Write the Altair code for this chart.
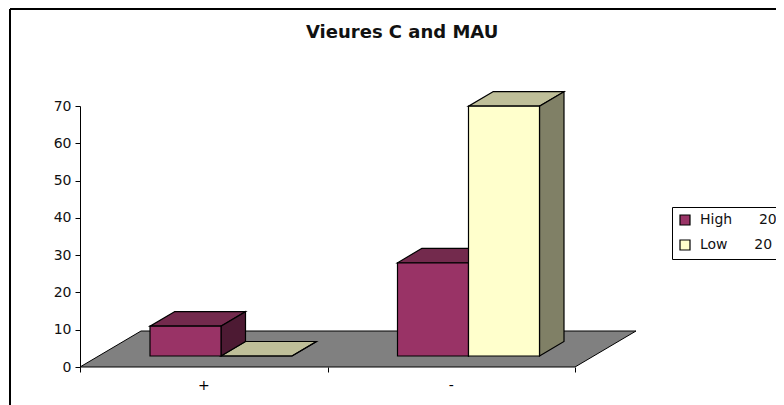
import altair as alt
import pandas as pd

categories = ["+", "-"]
series = ["High", "Low"]
high_values = [8, 25]
low_values = [0, 67]
nb = "\u00a0"
legend_labels = ["High" + nb * 6 + "20" + nb * 3, "Low" + nb * 6 + "20" + nb * 4]
y_ticks = [0, 10, 20, 30, 40, 50, 60, 70]
x_ticks = [0, 1, 2]

front_colors = ["#993366", "#FFFFCC"]
top_colors = ["#732A4D", "#BFBF99"]
side_colors = ["#4D1A33", "#808066"]
floor_color = "#808080"

# Oblique projection, in axis units (1 x unit = one category, 1 y unit = one value unit)
PX_X = 247.5
PX_Y = 261 / 70
bar_w = 71 / PX_X
bar_start = 70 / PX_X
base_y = 11 / PX_Y
depth_x = 24.5 / PX_X
depth_y = 14.5 / PX_Y
floor_dx = 61 / PX_X
floor_dy = 36 / PX_Y

fronts, tops, sides = [], [], []
for s, vals in enumerate([high_values, low_values]):
    for c, v in enumerate(vals):
        x0 = c + bar_start + s * bar_w
        x1 = x0 + bar_w
        y0 = base_y
        y1 = base_y + v
        key = f"{s}-{c}"
        fronts.append(dict(series=legend_labels[s], x=x0, x2=x1, y=y0, y2=y1))
        tops.append(dict(k=key, fill=top_colors[s], y=y1, x=x0, x2=x1))
        tops.append(dict(k=key, fill=top_colors[s], y=y1 + depth_y, x=x0 + depth_x, x2=x1 + depth_x))
        sides.append(dict(k=key, fill=side_colors[s], x=x1, y=y0, y2=y1))
        sides.append(dict(k=key, fill=side_colors[s], x=x1 + depth_x, y=y0 + depth_y, y2=y1 + depth_y))

floor = pd.DataFrame([
    dict(y=0, x=0, x2=2),
    dict(y=floor_dy, x=floor_dx, x2=2 + floor_dx),
])

W, H = 696, 261
font = "DejaVu Sans"

x_ch = alt.X("x:Q", scale=alt.Scale(domain=[0, W / PX_X], range=[0, W], nice=False),
             axis=alt.Axis(values=x_ticks, labels=False, title=None, grid=False,
                           domain=False, tickColor="black", tickSize=5, tickWidth=1))
y_ch = alt.Y("y:Q", scale=alt.Scale(domain=[0, 70], range=[H, 0], nice=False),
             axis=alt.Axis(values=y_ticks, title=None, grid=False, domainColor="black",
                           tickColor="black", tickSize=5, tickWidth=1, labelFont=font,
                           labelFontSize=14, labelColor="#111111", labelPadding=4,
                           labelOverlap=False, labelBound=False, labelFlush=False))

floor_layer = alt.Chart(floor).mark_area(orient="horizontal", fill=floor_color, stroke="black", strokeWidth=1).encode(
    y=y_ch, x=x_ch, x2="x2:Q")

top_layer = alt.Chart(pd.DataFrame(tops)).mark_area(orient="horizontal", stroke="black", strokeWidth=1.2).encode(
    y=y_ch, x=x_ch, x2="x2:Q", detail="k:N", fill=alt.Fill("fill:N", scale=None))

side_layer = alt.Chart(pd.DataFrame(sides)).mark_area(stroke="black", strokeWidth=1.2).encode(
    x=x_ch, y=y_ch, y2="y2:Q", detail="k:N", fill=alt.Fill("fill:N", scale=None))

front_layer = alt.Chart(pd.DataFrame(fronts)).mark_rect(stroke="black", strokeWidth=1.2).encode(
    x=x_ch, x2="x2:Q", y=y_ch, y2="y2:Q",
    fill=alt.Fill("series:N",
                  scale=alt.Scale(domain=legend_labels, range=front_colors),
                  sort=legend_labels,
                  legend=alt.Legend(title=None, orient="none", legendX=592, legendY=101,
                                    fillColor="white", strokeColor="black", padding=6,
                                    symbolType="square", symbolSize=100, symbolStrokeColor="black",
                                    symbolStrokeWidth=1.2, labelFont=font, labelFontSize=14,
                                    labelColor="#111111", rowPadding=9, labelOffset=8, labelLimit=300)),
)

labels_layer = alt.Chart(pd.DataFrame({"x": [0.5, 1.5], "y": [0, 0], "t": categories})).mark_text(
    font=font, fontSize=14, color="black", dy=19, baseline="middle").encode(
    x=x_ch, y=y_ch, text="t:N")

frame_left = alt.Chart(pd.DataFrame({"a": [0]})).mark_rule(color="black", strokeWidth=2).encode(
    x=alt.value(-70), y=alt.value(-97), y2=alt.value(H + 38))
frame_top = alt.Chart(pd.DataFrame({"a": [0]})).mark_rule(color="black", strokeWidth=2).encode(
    x=alt.value(-70), x2=alt.value(W), y=alt.value(-97))

chart = alt.layer(
    floor_layer, top_layer, side_layer, front_layer, labels_layer, frame_left, frame_top
).properties(
    width=W, height=H,
    padding={"left": 72, "top": 98, "right": 0, "bottom": 38},
    autosize=alt.AutoSizeParams(type="none"),
    title=alt.TitleParams("Vieures C and MAU", font="DejaVu Sans", fontSize=18, fontWeight="bold", color="#111111",
                          anchor="start", dx=297, dy=34, offset=0),
).configure_view(stroke=None).resolve_scale(fill="independent")

chart.save("out.html", embed_options={"renderer": "svg", "actions": False})
